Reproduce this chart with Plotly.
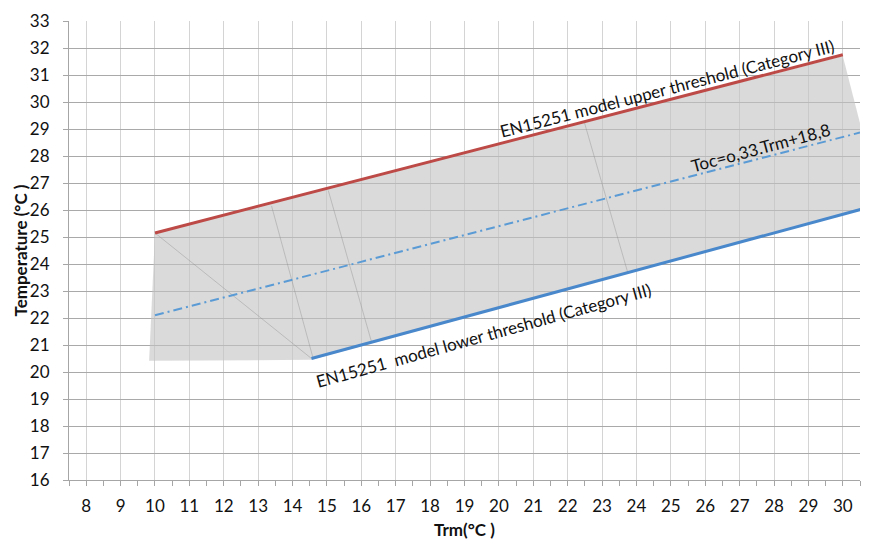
import plotly.graph_objects as go

# ---- data ----
x_ticks = list(range(8, 31))
y_ticks = list(range(16, 34))

upper_x = [10, 30]
upper_y = [25.15, 31.75]

mid_x = [10, 30.5]
mid_y = [22.1, 28.87]

lower_x = [14.55, 30.6]
lower_y = [20.5, 26.05]

band_x = [9.83, 10, 30, 31.1, 14.55, 9.83]
band_y = [20.42, 25.15, 31.7, 26.22, 20.45, 20.42]

facet_lines = [
    ([10.0, 14.55], [25.15, 20.5]),
    ([13.39, 14.6], [26.15, 20.5]),
    ([15.04, 16.3], [26.72, 21.1]),
    ([22.48, 23.75], [29.27, 23.67]),
]

FONT = "Lato"
FS = 17

fig = go.Figure()

fig.add_trace(go.Scatter(
    x=band_x, y=band_y, mode="lines", fill="toself",
    fillcolor="rgba(196,196,196,0.62)", line=dict(width=0),
    hoverinfo="skip", showlegend=False))

for fx, fy in facet_lines:
    fig.add_trace(go.Scatter(
        x=fx, y=fy, mode="lines",
        line=dict(color="rgba(140,140,140,0.4)", width=1),
        hoverinfo="skip", showlegend=False))

fig.add_trace(go.Scatter(
    x=upper_x, y=upper_y, mode="lines",
    line=dict(color="#bd4a46", width=3), showlegend=False))

fig.add_trace(go.Scatter(
    x=mid_x, y=mid_y, mode="lines",
    line=dict(color="#5b9bd5", width=2, dash="9px,4px,2px,4px"), showlegend=False))

fig.add_trace(go.Scatter(
    x=lower_x, y=lower_y, mode="lines",
    line=dict(color="#4a88cc", width=3), showlegend=False))

tfont = dict(family=FONT, size=FS, color="#111111")

fig.add_annotation(x=24.89, y=30.5, xref="x", yref="y",
                   text="EN15251 model upper threshold (Category III)",
                   textangle=-14.5, showarrow=False, font=tfont,
                   xanchor="center", yanchor="middle")
fig.add_annotation(x=27.62, y=28.32, xref="x", yref="y",
                   text="Toc=o,33.Trm+18,8",
                   textangle=-15, showarrow=False, font=tfont,
                   xanchor="center", yanchor="middle")
fig.add_annotation(x=19.54, y=21.37, xref="x", yref="y",
                   text="EN15251\u00a0 model lower threshold (Category III)",
                   textangle=-15.5, showarrow=False, font=tfont,
                   xanchor="center", yanchor="middle")

# axis titles
fig.add_annotation(x=(20 - 69) / 791, y=0.5, xref="paper", yref="paper",
                   text="<b>Temperature (°C )</b>", textangle=-90,
                   xanchor="center", yanchor="middle",
                   showarrow=False, font=dict(family=FONT, size=FS, color="#111111"))
fig.add_annotation(x=0.5, y=-(530 - 480) / 465, xref="paper", yref="paper",
                   text="<b>Trm(°C )</b>", showarrow=False,
                   xanchor="center", yanchor="middle",
                   font=dict(family=FONT, size=FS, color="#111111"))

fig.update_layout(
    width=870, height=545,
    margin=dict(l=69, r=10, t=15, b=65),
    paper_bgcolor="white", plot_bgcolor="white",
    font=dict(family=FONT, size=FS, color="#111111"),
)

fig.update_xaxes(
    range=[7.5, 30.5], tickvals=x_ticks, ticktext=[str(v) for v in x_ticks],
    showgrid=True, gridcolor="#d4d4d4", gridwidth=1,
    showline=True, linecolor="#a6a6a6", linewidth=1,
    ticks="outside", ticklen=5, tickcolor="#a6a6a6",
    minor=dict(dtick=0.5, tick0=7.5, ticks="outside", ticklen=5, tickcolor="#a6a6a6", showgrid=False),
    zeroline=False, ticklabelstandoff=6, fixedrange=True,
    tickfont=dict(family=FONT, size=FS, color="#111111"),
)
fig.update_yaxes(
    range=[16, 33], tickvals=y_ticks, ticktext=[str(v) for v in y_ticks],
    showgrid=True, gridcolor="#a9a9a9", gridwidth=1,
    showline=True, linecolor="#a6a6a6", linewidth=1,
    ticks="outside", ticklen=5, tickcolor="#a6a6a6",
    zeroline=False, ticklabelstandoff=10, fixedrange=True,
    tickfont=dict(family=FONT, size=FS, color="#111111"),
)

fig.write_html("out.html")
